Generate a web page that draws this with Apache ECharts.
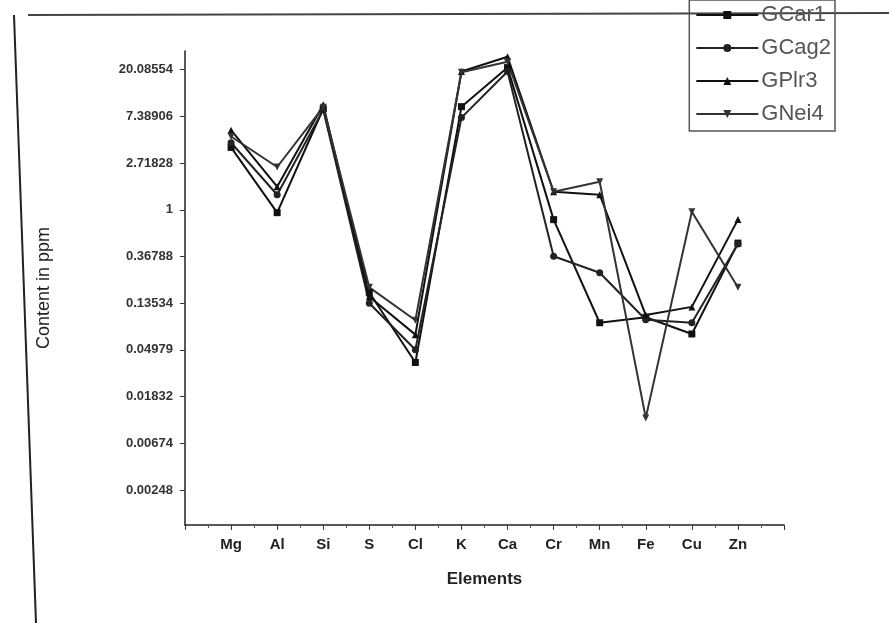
<!DOCTYPE html>
<html>
<head>
<meta charset="utf-8">
<script src="https://cdn.jsdelivr.net/npm/echarts@6/dist/echarts.min.js"></script>
<style>html,body{margin:0;padding:0;background:#fff;}#c{width:889px;height:623px;}</style>
</head>
<body>
<div id="c"></div>
<script>
const elements = ['Mg','Al','Si','S','Cl','K','Ca','Cr','Mn','Fe','Cu','Zn'];
const yTickLabels = ['0.00248','0.00674','0.01832','0.04979','0.13534','0.36788','1','2.71828','7.38906','20.08554'];
const GCar1 = [3.8, 0.94, 8.7, 0.17, 0.038, 9.1, 21.0, 0.81, 0.089, 0.100, 0.070, 0.49];
const GCag2 = [4.2, 1.38, 8.5, 0.135, 0.050, 7.2, 19.3, 0.37, 0.26, 0.095, 0.089, 0.48];
const GPlr3 = [5.5, 1.64, 9.5, 0.155, 0.069, 19.3, 26.5, 1.47, 1.38, 0.105, 0.125, 0.81];
const GNei4 = [4.8, 2.5, 9.0, 0.19, 0.094, 19.0, 23.8, 1.47, 1.82, 0.0116, 0.96, 0.19];

const yTickValues = yTickLabels.map(s => Math.log(parseFloat(s)));
const toPts = arr => arr.map((v, i) => [i + 1, Math.log(v)]);
const font = 'Liberation Sans';

const mk = (name, data, symbol, color) => ({
  name, type: 'line', data: toPts(data), symbol, symbolSize: 7,
  lineStyle: { color, width: 2 }, itemStyle: { color },
  animation: false
});

const chart = echarts.init(document.getElementById('c'));
chart.setOption({
  backgroundColor: '#fff',
  animation: false,
  grid: { left: 185, right: 105, top: 51, bottom: 98, containLabel: false },
  legend: {
    orient: 'vertical', right: 54, top: 0,
    itemWidth: 62, itemHeight: 10, itemGap: 11,
    padding: [4, 4, 6, 6],
    borderColor: '#555', borderWidth: 1.5,
    textStyle: { fontFamily: font, fontSize: 22, color: '#555', padding: [0, 0, 0, -2] },
    data: ['GCar1', 'GCag2', 'GPlr3', 'GNei4']
  },
  xAxis: {
    type: 'value', min: 0, max: 13, interval: 1,
    name: 'Elements', nameLocation: 'middle', nameGap: 46,
    nameTextStyle: { fontFamily: font, fontSize: 17, fontWeight: 'bold', color: '#222' },
    axisLine: { onZero: false, lineStyle: { color: '#222', width: 1.5 } },
    axisTick: { show: true, length: 5, lineStyle: { color: '#333' } },
    minorTick: { show: true, splitNumber: 2, length: 3, lineStyle: { color: '#555' } },
    splitLine: { show: false },
    axisLabel: {
      margin: 12, fontFamily: font, fontSize: 15, fontWeight: 'bold', color: '#222',
      formatter: v => (v >= 1 && v <= elements.length) ? elements[v - 1] : ''
    }
  },
  yAxis: {
    type: 'value', min: -6.75, max: 3.4,
    name: 'Content in ppm', nameLocation: 'middle', nameGap: 132,
    nameTextStyle: { fontFamily: font, fontSize: 18, color: '#222' },
    axisLine: { show: true, onZero: false, lineStyle: { color: '#222', width: 1.5 } },
    axisTick: { show: true, length: 5, customValues: yTickValues, lineStyle: { color: '#333' } },
    splitLine: { show: false },
    axisLabel: {
      margin: 12, fontFamily: font, fontSize: 13, fontWeight: 'bold', color: '#333',
      customValues: yTickValues,
      formatter: (v) => {
        let best = 0, d = Infinity;
        yTickValues.forEach((t, i) => { if (Math.abs(t - v) < d) { d = Math.abs(t - v); best = i; } });
        return yTickLabels[best];
      }
    }
  },
  graphic: [
    { type: 'line', shape: { x1: 28, y1: 15, x2: 889, y2: 13 }, style: { stroke: '#444', lineWidth: 2 } },
    { type: 'line', shape: { x1: 14, y1: 15, x2: 36, y2: 623 }, style: { stroke: '#222', lineWidth: 2 } }
  ],
  series: [
    mk('GCar1', GCar1, 'rect', '#111'),
    mk('GCag2', GCag2, 'circle', '#222'),
    mk('GPlr3', GPlr3, 'triangle', '#111'),
    mk('GNei4', GNei4, 'path://M0,0 L10,0 L5,10 Z', '#333')
  ]
});
</script>
</body>
</html>
